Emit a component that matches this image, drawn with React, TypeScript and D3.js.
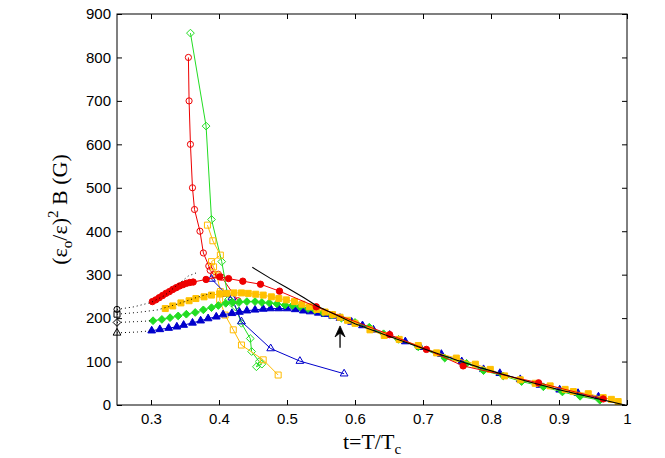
import React, { useEffect, useRef } from 'react';
import * as d3 from 'd3';

type Pt = [number, number];

const xTicks = [0.3, 0.4, 0.5, 0.6, 0.7, 0.8, 0.9, 1];
const yTicks = [0, 100, 200, 300, 400, 500, 600, 700, 800, 900];

// filled markers: data taken on the lower branch
const redFilled: Pt[] = [
  [0.302, 238], [0.307, 242], [0.312, 247], [0.317, 252], [0.322, 257], [0.327, 261],
  [0.332, 266], [0.337, 270], [0.342, 274], [0.347, 277], [0.352, 280], [0.357, 282],
  [0.362, 283], [0.381, 289], [0.401, 295], [0.414, 291], [0.435, 285], [0.461, 278],
  [0.489, 262], [0.543, 226], [0.651, 162], [0.705, 128], [0.759, 90], [0.87, 51], [0.965, 14],
];
const yellowFilled: Pt[] = [
  [0.321, 222], [0.332, 228], [0.344, 235], [0.356, 240], [0.366, 245], [0.378, 249],
  [0.389, 253], [0.401, 256], [0.411, 257], [0.422, 258], [0.433, 258], [0.443, 257],
  [0.454, 255], [0.465, 253], [0.477, 249], [0.488, 245], [0.499, 242], [0.511, 238],
  [0.522, 232], [0.533, 226], [0.544, 220], [0.556, 214], [0.567, 208], [0.578, 202],
  [0.589, 195], [0.6, 188], [0.622, 173], [0.643, 160], [0.665, 151], [0.693, 137],
  [0.72, 120], [0.749, 108], [0.777, 94], [0.799, 82], [0.82, 67], [0.843, 58],
  [0.865, 50], [0.887, 44], [0.909, 36], [0.921, 31], [0.943, 26], [0.965, 17],
  [0.977, 13], [0.987, 8],
];
const greenFilled: Pt[] = [
  [0.303, 194], [0.316, 197], [0.328, 201], [0.34, 205], [0.352, 209], [0.365, 213],
  [0.377, 219], [0.389, 224], [0.399, 229], [0.41, 234], [0.42, 236], [0.43, 237],
  [0.441, 238], [0.453, 238], [0.463, 236], [0.474, 235], [0.485, 233], [0.497, 230],
  [0.508, 229], [0.519, 226], [0.531, 222], [0.541, 219], [0.553, 213], [0.566, 207],
  [0.58, 200], [0.6, 190], [0.621, 179], [0.642, 164], [0.664, 151], [0.693, 134],
  [0.732, 108], [0.764, 96], [0.789, 79], [0.818, 67], [0.845, 54], [0.877, 42],
  [0.905, 30], [0.931, 20], [0.96, 11],
];
const blueFilled: Pt[] = [
  [0.301, 171], [0.313, 174], [0.326, 177], [0.338, 180], [0.348, 184], [0.361, 189],
  [0.373, 194], [0.384, 199], [0.396, 203], [0.406, 208], [0.419, 211], [0.43, 214],
  [0.441, 217], [0.453, 219], [0.465, 221], [0.476, 222], [0.488, 222], [0.5, 222],
  [0.512, 220], [0.524, 217], [0.534, 215], [0.546, 212], [0.556, 209], [0.567, 205],
  [0.578, 200], [0.595, 191], [0.611, 183], [0.627, 173], [0.651, 161], [0.674, 146],
  [0.696, 133], [0.727, 117], [0.757, 100], [0.789, 82], [0.813, 73], [0.843, 59],
  [0.872, 46], [0.901, 35], [0.928, 27], [0.958, 19],
];

// open markers: upper branch
const redOpen: Pt[] = [
  [0.355, 800], [0.356, 700], [0.358, 600], [0.361, 500], [0.364, 450], [0.372, 400],
  [0.377, 350], [0.385, 320], [0.387, 310], [0.392, 300], [0.399, 301], [0.404, 294],
  [0.428, 240],
];
const greenOpen: Pt[] = [
  [0.358, 856], [0.381, 642], [0.389, 427], [0.404, 330], [0.414, 243], [0.418, 235],
  [0.424, 226], [0.433, 188], [0.446, 153], [0.448, 123], [0.459, 100], [0.455, 88],
  [0.463, 94],
];
const yellowOpen: Pt[] = [
  [0.383, 414], [0.391, 378], [0.402, 345], [0.389, 330], [0.392, 318], [0.397, 299],
  [0.402, 261], [0.401, 242], [0.409, 207], [0.421, 173], [0.433, 138], [0.465, 104],
  [0.487, 69],
];
const blueOpen: Pt[] = [
  [0.389, 290], [0.411, 255], [0.419, 247], [0.433, 192], [0.476, 130], [0.519, 101],
  [0.584, 72],
];

// dotted extrapolations to t = 0.25
const redDot: Pt[] = [[0.25, 220], [0.275, 226], [0.3, 236], [0.32, 252], [0.34, 278], [0.355, 297], [0.368, 305]];
const yellowDot: Pt[] = [[0.25, 209], [0.28, 213], [0.31, 219], [0.34, 233], [0.37, 249], [0.39, 258]];
const greenDot: Pt[] = [[0.25, 190], [0.28, 192], [0.303, 194]];
const blueDot: Pt[] = [[0.25, 166], [0.28, 168], [0.301, 171]];

// black reference curve
const universal: Pt[] = [
  [0.449, 317], [0.475, 292], [0.5, 270], [0.525, 247], [0.544, 228], [0.578, 203],
  [0.6, 187], [0.65, 158], [0.7, 130], [0.75, 103], [0.784, 86], [0.85, 56], [0.9, 35],
  [0.95, 17], [0.997, 0],
];

const arrowT = 0.578;
const arrowFrom = 132;
const arrowTo = 182;

const diamond = {
  draw(ctx: any, size: number) {
    const r = Math.sqrt(size / 2);
    ctx.moveTo(0, -r);
    ctx.lineTo(r, 0);
    ctx.lineTo(0, r);
    ctx.lineTo(-r, 0);
    ctx.closePath();
  },
};

const App: React.FC = () => {
  const ref = useRef<SVGSVGElement>(null);

  useEffect(() => {
    if (!ref.current) return;
    const svg = d3.select(ref.current);
    svg.selectAll('*').remove();

    const left = 117, right = 627, top = 14, bottom = 405;
    const x = d3.scaleLinear().domain([0.25, 1]).range([left, right]);
    const y = d3.scaleLinear().domain([0, 900]).range([bottom, top]);

    const line = d3.line<Pt>().x(d => x(d[0])).y(d => y(d[1]));

    const series = [
      { data: redOpen, color: '#ee0000', sym: d3.symbolCircle, size: 30, filled: false },
      { data: greenOpen, color: '#22dd22', sym: diamond, size: 30, filled: false },
      { data: yellowOpen, color: '#ffbb00', sym: d3.symbolSquare, size: 36, filled: false },
      { data: blueOpen, color: '#0000cc', sym: d3.symbolTriangle, size: 26, filled: false },
      { data: blueFilled, color: '#0000cc', sym: d3.symbolTriangle, size: 26, filled: true },
      { data: greenFilled, color: '#22dd22', sym: diamond, size: 30, filled: true },
      { data: yellowFilled, color: '#ffc000', sym: d3.symbolSquare, size: 36, filled: true },
      { data: redFilled, color: '#ee0000', sym: d3.symbolCircle, size: 32, filled: true },
    ];

    const dotted = [
      { data: redDot, sym: d3.symbolCircle, size: 30 },
      { data: yellowDot, sym: d3.symbolSquare, size: 36 },
      { data: greenDot, sym: diamond, size: 30 },
      { data: blueDot, sym: d3.symbolTriangle, size: 26 },
    ];

    const plot = svg.append('g');

    series.forEach(s => {
      plot.append('path')
        .datum(s.data)
        .attr('fill', 'none')
        .attr('stroke', s.color)
        .attr('stroke-width', 1)
        .attr('d', line);
      plot.append('g')
        .selectAll('path')
        .data(s.data)
        .join('path')
        .attr('transform', d => `translate(${x(d[0])},${y(d[1])})`)
        .attr('d', d3.symbol().type(s.sym as any).size(s.size)() as string)
        .attr('fill', s.filled ? s.color : 'none')
        .attr('stroke', s.color)
        .attr('stroke-width', 1);
    });

    dotted.forEach(s => {
      plot.append('path')
        .datum(s.data)
        .attr('fill', 'none')
        .attr('stroke', '#000')
        .attr('stroke-width', 1)
        .attr('stroke-dasharray', '1,3')
        .attr('d', line);
      plot.append('path')
        .attr('transform', `translate(${x(s.data[0][0])},${y(s.data[0][1])})`)
        .attr('d', d3.symbol().type(s.sym as any).size(s.size)() as string)
        .attr('fill', 'none')
        .attr('stroke', '#000')
        .attr('stroke-width', 1);
    });

    plot.append('path')
      .datum(universal)
      .attr('fill', 'none')
      .attr('stroke', '#000')
      .attr('stroke-width', 1.1)
      .attr('d', line);

    // arrow
    const ax = x(arrowT), ay0 = y(arrowFrom), ay1 = y(arrowTo);
    plot.append('line')
      .attr('x1', ax).attr('x2', ax)
      .attr('y1', ay0).attr('y2', ay1 + 4)
      .attr('stroke', '#000')
      .attr('stroke-width', 1.3);
    plot.append('path')
      .attr('d', `M${ax},${ay1} L${ax + 5},${ay1 + 11} L${ax},${ay1 + 7} L${ax - 5},${ay1 + 11} Z`)
      .attr('fill', '#000')
      .attr('stroke', '#000')
      .attr('stroke-width', 0.8);

    // axes box
    svg.append('rect')
      .attr('x', left).attr('y', top)
      .attr('width', right - left).attr('height', bottom - top)
      .attr('fill', 'none')
      .attr('stroke', '#000')
      .attr('stroke-width', 1);

    const font = '"Liberation Sans", Arial, sans-serif';

    const xb = svg.append('g')
      .attr('transform', `translate(0,${bottom})`)
      .call(d3.axisBottom(x).tickValues(xTicks).tickSize(-5).tickPadding(8).tickFormat(d => String(d)));
    const xt = svg.append('g')
      .attr('transform', `translate(0,${top})`)
      .call(d3.axisTop(x).tickValues(xTicks).tickSize(-5).tickFormat(() => ''));
    const yl = svg.append('g')
      .attr('transform', `translate(${left},0)`)
      .call(d3.axisLeft(y).tickValues(yTicks).tickSize(-5).tickPadding(6).tickFormat(d => String(d)));
    const yr = svg.append('g')
      .attr('transform', `translate(${right},0)`)
      .call(d3.axisRight(y).tickValues(yTicks).tickSize(-5).tickFormat(() => ''));

    [xb, xt, yl, yr].forEach(g => {
      g.select('.domain').remove();
      g.selectAll('line').attr('stroke', '#000');
      g.selectAll('text')
        .attr('fill', '#000')
        .style('font-family', font)
        .style('font-size', '15px');
    });

    const serif = '"Liberation Serif", "Times New Roman", serif';

    const xl = svg.append('text')
      .attr('x', (left + right) / 2)
      .attr('y', 449)
      .attr('text-anchor', 'middle')
      .style('font-family', serif)
      .style('font-size', '22px')
      .attr('fill', '#000');
    xl.append('tspan').text('t=T/T');
    xl.append('tspan').attr('dy', 5).style('font-size', '15px').text('c');

    const ylab = svg.append('text')
      .attr('transform', `translate(67,${(top + bottom) / 2}) rotate(-90)`)
      .attr('text-anchor', 'middle')
      .style('font-family', serif)
      .style('font-size', '22px')
      .attr('fill', '#000');
    ylab.append('tspan').text('(ε');
    ylab.append('tspan').attr('dy', 5).style('font-size', '15px').text('o');
    ylab.append('tspan').attr('dy', -5).text('/ε)');
    ylab.append('tspan').attr('dy', -9).style('font-size', '15px').text('2');
    ylab.append('tspan').attr('dy', 9).text(' B (G)');
  }, []);

  return (
    <svg
      ref={ref}
      width={665}
      height={458}
      style={{ position: 'absolute', left: 0, top: 0, background: '#fff' }}
    />
  );
};

export default App;
